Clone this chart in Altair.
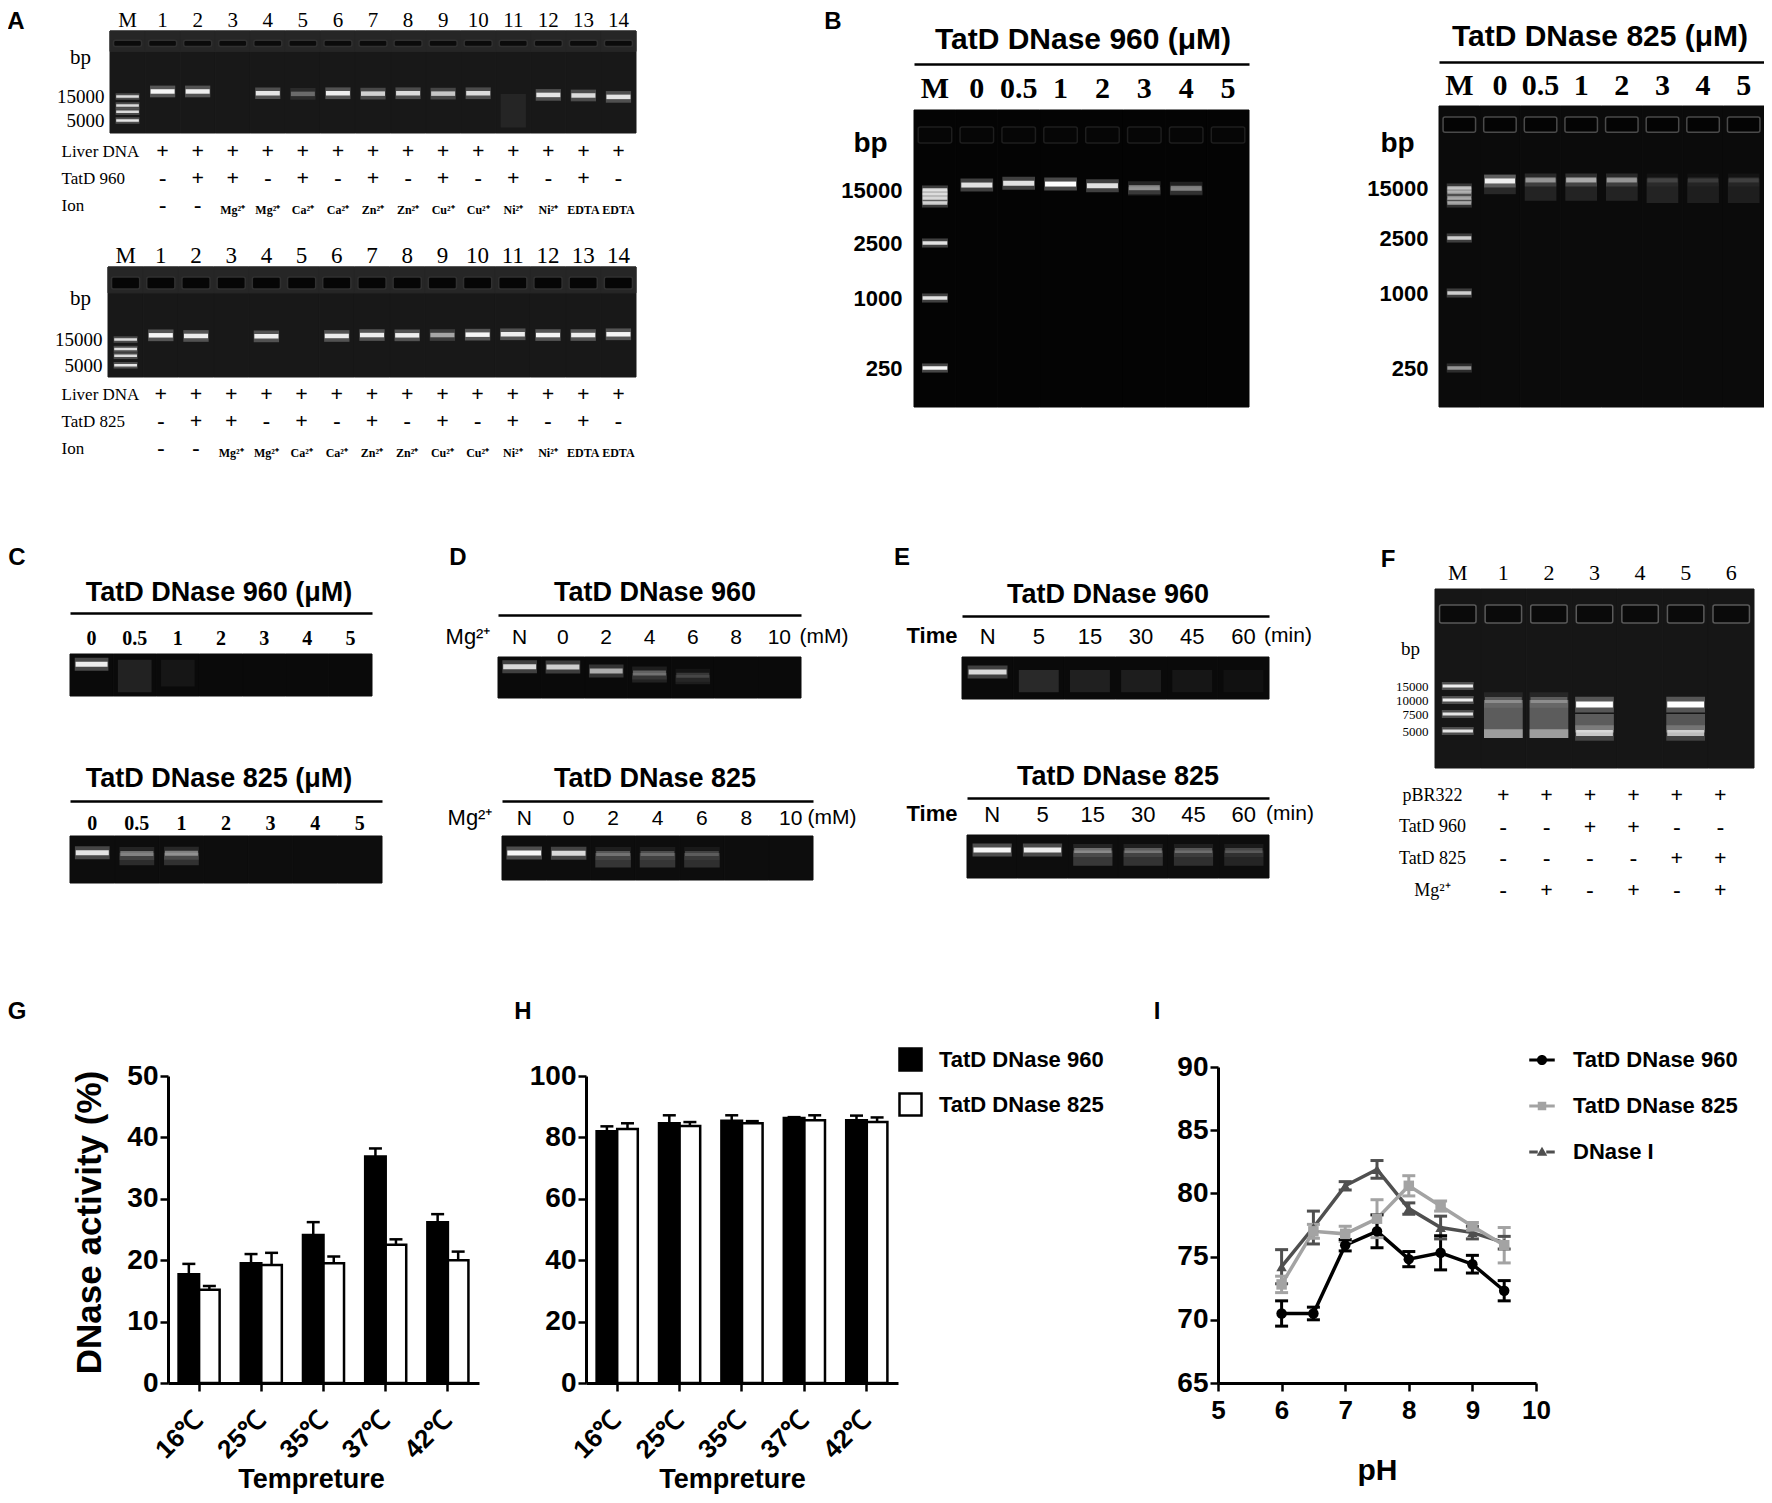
import altair as alt
import pandas as pd

# ============================ DATA ============================
# ---- A: metal-ion dependence on liver DNA (lanes M, 1..14)
A_LANES = ["M", "1", "2", "3", "4", "5", "6", "7", "8", "9", "10", "11", "12", "13", "14"]
A_LADDER_BP = [15000, 10000, 7500, 5000]
A_LADDER_I = [0.8, 0.8, 0.8, 0.85]
A1_BAND_BP = [None, 19000, 19000, None, 17500, 17000, 17500, 17200, 17500, 17200, 17500, None, 16200, 15800, 14800]
A1_BAND_I = [0, 0.95, 0.9, 0, 0.85, 0.3, 0.9, 0.75, 0.8, 0.7, 0.8, 0, 0.85, 0.8, 0.85]
A1_SMEAR = (["11"], [17000], [3600], [0.06])
A2_BAND_BP = [None, 18000, 17500, None, 17200, None, 17500, 18200, 18000, 18200, 18500, 18800, 18200, 18200, 18800]
A2_BAND_I = [0, 0.95, 0.9, 0, 0.9, 0, 0.9, 0.9, 0.9, 0.55, 0.95, 0.9, 0.95, 0.9, 0.95]
A_TAB_LANES = A_LANES[1:]
A_LIVER = ["+"] * 14
A_ENZYME = ["-", "+", "+", "-", "+", "-", "+", "-", "+", "-", "+", "-", "+", "-"]
A_ION = ["-", "-", "Mg²⁺", "Mg²⁺", "Ca²⁺", "Ca²⁺", "Zn²⁺", "Zn²⁺", "Cu²⁺", "Cu²⁺", "Ni²⁺", "Ni²⁺", "EDTA", "EDTA"]
A1_ROWS = ["Liver DNA", "TatD 960", "Ion"]
A2_ROWS = ["Liver DNA", "TatD 825", "Ion"]

# ---- B: dose dependence (µM)
B_LANES = ["M", "0", "0.5", "1", "2", "3", "4", "5"]
B_LADDER_BP = [15000, 10000, 7500, 5000, 2500, 1000, 250]
B1_LADDER_I = [0.8, 0.75, 0.75, 0.75, 0.85, 0.85, 0.95]
B1_BAND_BP = [None, 17700, 18800, 18300, 17300, 16200, 15900, None]
B1_BAND_I = [0, 0.85, 0.85, 1.0, 0.85, 0.45, 0.4, 0]
B1_SMEAR = (["3", "4"], [16500, 16500], [9000, 9000], [0.1, 0.08])
B2_LADDER_I = [0.65, 0.55, 0.55, 0.55, 0.75, 0.75, 0.5]
B2_BAND_BP = [None, 19300, 20000, 20000, 20000, 20000, 20000, 20000]
B2_BAND_I = [0, 0.9, 0.45, 0.55, 0.45, 0.12, 0.1, 0.12]
B2_SMEAR = (["0", "0.5", "1", "2", "3", "4", "5"],
            [24000, 21000, 21000, 21000, 21000, 21000, 21000],
            [9000, 6000, 6000, 6000, 5000, 5000, 5000],
            [0.12, 0.1, 0.1, 0.1, 0.1, 0.08, 0.08])

# ---- C: dose dependence strips
C_LANES = ["0", "0.5", "1", "2", "3", "4", "5"]
C1_BAND_BP = [24000, None, None, None, None, None, None]
C1_BAND_I = [0.9, 0, 0, 0, 0, 0, 0]
C1_SMEAR = (["0.5", "1"], [30000, 30000], [6000, 8000], [0.1, 0.05])
C2_BAND_BP = [19000, 18500, 18700, None, None, None, None]
C2_BAND_I = [0.85, 0.35, 0.4, 0, 0, 0, 0]
C2_SMEAR = (["0.5", "1"], [19000, 19000], [11000, 11000], [0.13, 0.15])

# ---- D: Mg2+ concentration (mM)
D_LANES = ["N", "0", "2", "4", "6", "8", "10"]
D1_BAND_BP = [24300, 24000, 19700, 17800, 15900, None, None]
D1_BAND_I = [0.8, 0.75, 0.6, 0.3, 0.15, 0, 0]
D1_SMEAR = (["4", "6"], [17800, 16000], [11000, 10000], [0.1, 0.08])
D2_BAND_BP = [18000, 17800, 17500, 17500, 17500, None, None]
D2_BAND_I = [0.95, 0.8, 0.25, 0.22, 0.18, 0, 0]
D2_SMEAR = (["2", "4", "6"], [18000, 18000, 18000], [9000, 9000, 9000], [0.17, 0.17, 0.14])

# ---- E: time course (min)
E_LANES = ["N", "5", "15", "30", "45", "60"]
E1_BAND_BP = [19000, None, None, None, None, None]
E1_BAND_I = [0.8, 0, 0, 0, 0, 0]
E1_SMEAR = (["5", "15", "30", "45", "60"], [21000] * 5, [7000] * 5, [0.13, 0.09, 0.08, 0.05, 0.03])
E2_BAND_BP = [19300, 19300, 19000, 19000, 19000, 19000]
E2_BAND_I = [0.95, 0.9, 0.35, 0.28, 0.25, 0.2]
E2_SMEAR = (["15", "30", "45", "60"], [19000] * 4, [9000] * 4, [0.18, 0.16, 0.14, 0.1])

# ---- F: pBR322 plasmid
F_LANES = ["M", "1", "2", "3", "4", "5", "6"]
F_LADDER_BP = [15000, 10000, 7500, 5000]
F_LADDER_I = [0.9, 0.9, 0.85, 0.85]
F_BAND_LANE = ["1", "2", "3", "3", "5", "5"]
F_BAND_BP = [10000, 10000, 9100, 4580, 9100, 4580]
F_BAND_I = [0.25, 0.25, 1.0, 0.7, 1.0, 0.65]
F_SMEAR = (["1", "1", "2", "2", "3", "5"],
           [10000, 5200, 10000, 5200, 7500, 7500],
           [3700, 3700, 3700, 3700, 4700, 4700],
           [0.3, 0.4, 0.3, 0.4, 0.3, 0.28])
F_TAB_LANES = F_LANES[1:]
F_ROWS = ["pBR322", "TatD 960", "TatD 825", "Mg²⁺"]
F_PBR = ["+"] * 6
F_960 = ["-", "-", "+", "+", "-", "-"]
F_825 = ["-", "-", "-", "-", "+", "+"]
F_MG = ["-", "+", "-", "+", "-", "+"]

# ---- G / H: temperature
TEMPS = ["16℃", "25℃", "35℃", "37℃", "42℃"]
SERIES_GH = ["TatD DNase 960", "TatD DNase 825"]
G_960 = [17.7, 19.5, 24.1, 36.9, 26.2]
G_960_ERR = [1.7, 1.5, 2.1, 1.3, 1.3]
G_825 = [15.2, 19.2, 19.5, 22.5, 20.0]
G_825_ERR = [0.6, 2.0, 1.1, 0.9, 1.4]
H_960 = [82.0, 84.6, 85.4, 86.3, 85.6]
H_960_ERR = [1.6, 2.6, 1.8, 0.3, 1.5]
H_825 = [82.7, 83.7, 84.6, 85.6, 85.0]
H_825_ERR = [1.9, 1.3, 0.7, 1.6, 1.5]

# ---- I: pH
SERIES_I = ["TatD DNase 960", "TatD DNase 825", "DNase I"]
PH = [6, 6.5, 7, 7.5, 8, 8.5, 9, 9.5]
I_960 = [70.5, 70.5, 75.9, 77.0, 74.8, 75.3, 74.4, 72.3]
I_960_ERR = [1.0, 0.5, 0.45, 1.3, 0.6, 1.35, 0.7, 0.8]
I_825 = [72.8, 77.0, 76.8, 78.0, 80.6, 79.0, 77.4, 75.9]
I_825_ERR = [0.65, 0.55, 0.6, 1.5, 0.8, 0.4, 0.3, 1.4]
I_DN1 = [74.2, 77.3, 80.6, 81.9, 78.8, 77.3, 76.9, 76.1]
I_DN1_ERR = [1.35, 1.3, 0.33, 0.7, 0.45, 0.9, 0.5, 0.5]

# ============================ LAYOUT / STYLE ============================
M = 8                      # page margin
W, H = 1756, 1487          # whole canvas (plot area of the single layered chart)


def P(v):
    return v - M


SANS = "Liberation Sans"
SERIF = "Liberation Serif"
layers = []


def add(ch):
    layers.append(ch)


def lane_axis(line_y, label_y, font, size, weight="normal", domain=False):
    return alt.Axis(orient="top", offset=-P(line_y), domain=domain, domainColor="black", domainWidth=2.5,
                    ticks=False, tickSize=0, labelPadding=-(label_y - line_y), labelBaseline="middle",
                    labelAngle=0, labelAlign="center", labelFont=font, labelFontSize=size,
                    labelFontWeight=weight, labelColor="black", labelOverlap=False, labelBound=False,
                    labelFlush=False, labelLimit=300, title=None, grid=False)


def bp_axis(x0, values, font, size, weight, pad, bx, by, bsize):
    return alt.Axis(orient="left", offset=-P(x0), values=values, format="d", domain=False, ticks=False,
                    tickSize=0, labelPadding=pad, labelFont=font, labelFontSize=size, labelFontWeight=weight,
                    labelColor="black", labelOverlap=False, labelBound=False, labelFlush=False,
                    title="bp", titleFont=font, titleFontSize=bsize, titleFontWeight=weight,
                    titleColor="black", titleAngle=0, titleAlign="center", titleBaseline="middle",
                    titleX=bx - x0, titleY=P(by), grid=False)


def gel(lanes, x0, x1, ydom, yrng, bg, band_lanes, band_bp, band_i, ladder=None, ladder_i=None,
        smear=None, wells=None, wfill="#080808", wstroke="#3a3a3a", strip=None, th=5, bw=0.74, lth=3,
        lbw=0.64, xaxis=None, yaxis=None):
    step = (x1 - x0) / len(lanes)

    def X(axis=None):
        return alt.X("lane:N", axis=axis,
                     scale=alt.Scale(type="band", domain=lanes, range=[P(x0), P(x1)],
                                     paddingInner=0, paddingOuter=0))

    def Y(field, axis=None):
        return alt.Y(field, axis=axis,
                     scale=alt.Scale(type="log", domain=ydom, range=[P(r) for r in yrng], nice=False))

    n = len(lanes)
    bgdf = pd.DataFrame({"lane": lanes, "lo": [min(ydom)] * n, "hi": [max(ydom)] * n})
    add(alt.Chart(bgdf).mark_rect(color=bg, stroke=bg, strokeWidth=1)
        .encode(x=X(xaxis), y=Y("lo:Q", yaxis), y2="hi:Q"))
    if strip:
        sdf = pd.DataFrame({"lane": lanes, "lo": [strip[1]] * n, "hi": [max(ydom)] * n})
        add(alt.Chart(sdf).mark_rect(color=strip[2], stroke=strip[2], strokeWidth=1)
            .encode(x=X(), y=Y("lo:Q"), y2="hi:Q"))
    if wells:
        wdf = pd.DataFrame({"lane": lanes, "top": [wells[0]] * n, "bot": [wells[1]] * n})
        add(alt.Chart(wdf).mark_bar(width=alt.RelativeBandSize(0.8), fill=wfill, stroke=wstroke,
                                    strokeWidth=1.5, cornerRadius=2)
            .encode(x=X(), y=Y("top:Q"), y2="bot:Q"))
    if smear:
        sdf = pd.DataFrame({"lane": smear[0], "hi": smear[1], "lo": smear[2], "v": smear[3]})
        add(alt.Chart(sdf).mark_bar(width=alt.RelativeBandSize(bw), color="white")
            .encode(x=X(), y=Y("hi:Q"), y2="lo:Q", opacity=alt.Opacity("v:Q", scale=None)))
    recs = [(l, b, v) for l, b, v in zip(band_lanes, band_bp, band_i) if b is not None and v > 0]
    bdf = pd.DataFrame(recs, columns=["lane", "bp", "v"])
    sets = [(bdf, th, bw)]
    if ladder:
        ldf = pd.DataFrame({"lane": ["M"] * len(ladder), "bp": ladder, "v": ladder_i})
        sets.append((ldf, lth, lbw))
    for df, t, w in sets:
        for thick, size, op in [(t * 2.6, w * step, 0.28), (t, w * step * 0.95, 1.0)]:
            add(alt.Chart(df).transform_calculate(o="datum.v*%s" % op)
                .mark_tick(orient="horizontal", color="white", thickness=thick, size=size)
                .encode(x=X(), y=Y("bp:Q"), opacity=alt.Opacity("o:Q", scale=None)))


def table(rows, lanes, tab_lanes, cols, x0, x1, y0, y1, lab_x, lab_align, lab_size, sym_size,
          small_size=12, small_dy=5):
    recs = []
    for r, vals in zip(rows, cols):
        for l, v in zip(tab_lanes, vals):
            recs.append({"row": r, "lane": l, "val": v})
    df = pd.DataFrame(recs)

    def X():
        return alt.X("lane:N", axis=None,
                     scale=alt.Scale(type="band", domain=lanes, range=[P(x0), P(x1)],
                                     paddingInner=0, paddingOuter=0))

    def Y(axis=None):
        return alt.Y("row:N", axis=axis,
                     scale=alt.Scale(type="point", domain=rows, range=[P(y0), P(y1)], padding=0))

    yaxis = alt.Axis(orient="left", offset=0, domain=False, ticks=False, tickSize=0,
                     labelPadding=-P(lab_x), labelAlign=lab_align, labelBaseline="middle",
                     labelFont=SERIF, labelFontSize=lab_size, labelColor="black", labelOverlap=False,
                     labelBound=False, labelLimit=400, title=None, grid=False)
    sym = df[df.val.isin(["+", "-"])]
    add(alt.Chart(sym).mark_text(font=SERIF, fontSize=sym_size, fontWeight="bold", color="black")
        .encode(x=X(), y=Y(yaxis), text="val:N"))
    small = df[~df.val.isin(["+", "-"])]
    if len(small):
        add(alt.Chart(small).mark_text(font=SERIF, fontSize=small_size, fontWeight="bold",
                                       color="black", dy=small_dy)
            .encode(x=X(), y=Y(), text="val:N"))


def label(text, x, y, size, weight="bold", font=SANS, align="center"):
    add(alt.Chart(pd.DataFrame({"t": [text]}))
        .mark_text(font=font, fontSize=size, fontWeight=weight, align=align, baseline="middle",
                   color="black")
        .encode(text="t:N", x=alt.value(P(x)), y=alt.value(P(y))))


# ============================ GELS ============================
STRIP = [5000, 40000]
B1_DOM = [117, 250, 1000, 2500, 5000, 7500, 10000, 15000, 218000]
B1_RNG = [407, 368, 298, 243, 203, 198, 194, 190, 110]
B2_DOM = [122, 250, 1000, 2500, 5000, 7500, 10000, 15000, 283000]
B2_RNG = [407, 368, 293, 238, 203, 198, 192, 188, 106]
F_DOM = [1000, 5000, 7500, 10000, 15000, 1000000]
F_RNG = [768, 731, 714, 700, 686, 589]

# A
gel(A_LANES, 110, 636, [2805, 307600], [133, 31], "#181818", A_LANES, A1_BAND_BP, A1_BAND_I,
    A_LADDER_BP, A_LADDER_I, smear=A1_SMEAR, wells=(200000, 150000), wfill="#0b0b0b", wstroke="#303030",
    strip=(None, 120000, "#262626"), th=4.5, bw=0.72, lth=2.5, lbw=0.68,
    xaxis=lane_axis(20, 20, SERIF, 21),
    yaxis=bp_axis(110, [15000, 5000], SERIF, 19, "normal", 6, 80, 57, 21))
gel(A_LANES, 108, 636, [3034, 332700], [377, 267], "#181818", A_LANES, A2_BAND_BP, A2_BAND_I,
    A_LADDER_BP, A_LADDER_I, wells=(218000, 130000), wfill="#060606", wstroke="#303030",
    strip=(None, 110000, "#262626"), th=4.5, bw=0.72, lth=2.5, lbw=0.68,
    xaxis=lane_axis(255, 255, SERIF, 23),
    yaxis=bp_axis(108, [15000, 5000], SERIF, 19, "normal", 6, 80, 298, 21))
table(A1_ROWS, A_LANES, A_TAB_LANES, [A_LIVER, A_ENZYME, A_ION], 110, 636, 151, 205, 61, "left", 17, 22)
table(A2_ROWS, A_LANES, A_TAB_LANES, [A_LIVER, A_ENZYME, A_ION], 108, 636, 394, 448, 61, "left", 17, 22)

# B
gel(B_LANES, 914, 1249, B1_DOM, B1_RNG, "#040404", B_LANES, B1_BAND_BP, B1_BAND_I,
    B_LADDER_BP, B1_LADDER_I, smear=B1_SMEAR, wells=(123000, 72000), wfill="#060606", wstroke="#1e1e1e",
    th=5, bw=0.78, lth=3.5, lbw=0.62,
    xaxis=lane_axis(64, 88, SERIF, 30, "bold", True),
    yaxis=bp_axis(914, [15000, 2500, 1000, 250], SANS, 22, "bold", 12, 870, 143, 28))
gel(B_LANES, 1439, 1764, B2_DOM, B2_RNG, "#0b0b0b", B_LANES, B2_BAND_BP, B2_BAND_I,
    B_LADDER_BP, B2_LADDER_I, smear=B2_SMEAR, wells=(191000, 111000), wfill="#040404", wstroke="#4a4a4a",
    th=5, bw=0.78, lth=3.5, lbw=0.62,
    xaxis=lane_axis(62, 85, SERIF, 30, "bold", True),
    yaxis=bp_axis(1439, [15000, 2500, 1000, 250], SANS, 22, "bold", 11, 1397, 143, 28))

# C
gel(C_LANES, 70, 372, STRIP, [696, 654], "#0a0a0a", C_LANES, C1_BAND_BP, C1_BAND_I, smear=C1_SMEAR,
    th=5, bw=0.78, xaxis=lane_axis(613, 638, SERIF, 20, "bold", True))
gel(C_LANES, 70, 382, STRIP, [883, 836], "#0d0d0d", C_LANES, C2_BAND_BP, C2_BAND_I, smear=C2_SMEAR,
    th=5, bw=0.78, xaxis=lane_axis(801, 823, SERIF, 20, "bold", True))
# D
gel(D_LANES, 498, 801, STRIP, [698, 657], "#0a0a0a", D_LANES, D1_BAND_BP, D1_BAND_I, smear=D1_SMEAR,
    th=5, bw=0.8, xaxis=lane_axis(615, 637, SANS, 21, "normal", True))
gel(D_LANES, 502, 813, STRIP, [880, 836], "#0d0d0d", D_LANES, D2_BAND_BP, D2_BAND_I, smear=D2_SMEAR,
    th=5, bw=0.8, xaxis=lane_axis(801, 818, SANS, 21, "normal", True))
# E
gel(E_LANES, 962, 1269, STRIP, [699, 657], "#0a0a0a", E_LANES, E1_BAND_BP, E1_BAND_I, smear=E1_SMEAR,
    th=5, bw=0.78, xaxis=lane_axis(616, 636, SANS, 22, "normal", True))
gel(E_LANES, 967, 1269, STRIP, [878, 835], "#0d0d0d", E_LANES, E2_BAND_BP, E2_BAND_I, smear=E2_SMEAR,
    th=5, bw=0.78, xaxis=lane_axis(798, 814, SANS, 22, "normal", True))
# F
gel(F_LANES, 1435, 1754, F_DOM, F_RNG, "#161616", F_BAND_LANE, F_BAND_BP, F_BAND_I,
    F_LADDER_BP, F_LADDER_I, smear=F_SMEAR, wells=(500000, 229000), wfill="#0a0a0a", wstroke="#5a5a5a",
    th=6, bw=0.85, lth=3, lbw=0.7,
    xaxis=lane_axis(572, 572, SERIF, 22),
    yaxis=bp_axis(1435, [15000, 10000, 7500, 5000], SERIF, 13, "normal", 7, 1410, 648, 19))
table(F_ROWS, F_LANES, F_TAB_LANES, [F_PBR, F_960, F_825, F_MG], 1438, 1742, 795, 890, 1432, "center", 18, 22)

# ============================ G / H bar charts ============================
BASE_Y, TOP_Y = 1383, 1076


def bar_df(v960, e960, v825, e825):
    recs = []
    for s, vals, errs in [(SERIES_GH[0], v960, e960), (SERIES_GH[1], v825, e825)]:
        for t, v, e in zip(TEMPS, vals, errs):
            recs.append({"series": s, "temp": t, "mean": v, "err": e})
    return pd.DataFrame(recs)


def bars(df, x0, x1, ymax, yticks, ytitle, xtitle_x, legend):
    def X(axis=None):
        return alt.X("temp:N", axis=axis,
                     scale=alt.Scale(type="band", domain=TEMPS, range=[P(x0), P(x1)],
                                     paddingInner=0.34, paddingOuter=0.17))

    def XO():
        return alt.XOffset("series:N", scale=alt.Scale(type="band", domain=SERIES_GH,
                                                       paddingInner=0, paddingOuter=0))

    def Y(field, axis=None):
        return alt.Y(field, axis=axis,
                     scale=alt.Scale(domain=[0, ymax], range=[P(BASE_Y), P(TOP_Y)], nice=False, zero=True))

    xaxis = alt.Axis(orient="bottom", offset=P(BASE_Y) - H, domainColor="black", domainWidth=3,
                     tickColor="black", tickWidth=2.5, tickSize=8, labelAngle=-45, labelAlign="right",
                     labelBaseline="middle", labelPadding=24, labelFont=SANS, labelFontWeight="bold",
                     labelFontSize=26, labelColor="black", labelOverlap=False, labelBound=False,
                     title="Tempreture", titleFont=SANS, titleFontWeight="bold", titleFontSize=27,
                     titleColor="black", titleX=P(xtitle_x), titleY=1479 - BASE_Y, titleAlign="center",
                     titleBaseline="middle", titleAngle=0, grid=False, zindex=1)
    yaxis = alt.Axis(orient="left", offset=-P(x0), values=yticks, format="d", domainColor="black",
                     domainWidth=3, tickColor="black", tickWidth=2.5, tickSize=8, labelPadding=2,
                     labelFont=SANS, labelFontWeight="bold", labelFontSize=28, labelColor="black",
                     labelOverlap=False, labelBound=False, labelFlush=False, grid=False, zindex=1,
                     title=ytitle, titleFont=SANS, titleFontWeight="bold", titleFontSize=35,
                     titleColor="black", titleX=89 - x0, titleY=P(1222), titleBaseline="middle",
                     titleAlign="center")
    add(alt.Chart(df).mark_bar(stroke="black", strokeWidth=2.5).encode(
        x=X(xaxis), xOffset=XO(), y=Y("mean:Q", yaxis),
        fill=alt.Fill("series:N", scale=alt.Scale(domain=SERIES_GH, range=["black", "white"]), legend=legend)))
    add(alt.Chart(df).transform_calculate(top="datum.mean + datum.err")
        .mark_rule(color="black", strokeWidth=2.5)
        .encode(x=X(), xOffset=XO(), y=Y("mean:Q"), y2="top:Q"))
    add(alt.Chart(df).transform_calculate(top="datum.mean + datum.err")
        .mark_tick(orient="horizontal", color="black", thickness=2.5, size=13, opacity=1)
        .encode(x=X(), xOffset=XO(), y=Y("top:Q")))


bars(bar_df(G_960, G_960_ERR, G_825, G_825_ERR), 168, 479, 50, [0, 10, 20, 30, 40, 50],
     "DNase activity (%)", 311, None)
H_LEGEND = alt.Legend(orient="none", legendX=P(898), legendY=P(1047), direction="vertical", title=None,
                      symbolType="square", symbolSize=484, symbolStrokeColor="black", symbolStrokeWidth=2.5,
                      labelFont=SANS, labelFontWeight="bold", labelFontSize=22, labelColor="black",
                      labelOffset=16, rowPadding=12, padding=0, labelLimit=400)
bars(bar_df(H_960, H_960_ERR, H_825, H_825_ERR), 586, 898, 100, [0, 20, 40, 60, 80, 100],
     None, 732, H_LEGEND)

# ============================ I: pH line chart ============================
recs = []
for s, vals, errs in [(SERIES_I[2], I_DN1, I_DN1_ERR), (SERIES_I[1], I_825, I_825_ERR),
                      (SERIES_I[0], I_960, I_960_ERR)]:
    for p, v, e in zip(PH, vals, errs):
        recs.append({"series": s, "ph": p, "mean": v, "err": e})
idf = pd.DataFrame(recs)
I_COLORS = ["#000000", "#a3a3a3", "#4f4f4f"]


def IX(axis=None):
    return alt.X("ph:Q", axis=axis, scale=alt.Scale(domain=[5, 10], range=[P(1218), P(1536)],
                                                    nice=False, zero=False))


def IY(field, axis=None):
    return alt.Y(field, axis=axis, scale=alt.Scale(domain=[65, 90], range=[P(1383), P(1067)],
                                                   nice=False, zero=False))


def ICOL(legend=None):
    return alt.Color("series:N", scale=alt.Scale(domain=SERIES_I, range=I_COLORS), legend=legend)


i_xaxis = alt.Axis(orient="bottom", offset=P(1383) - H, values=[5, 6, 7, 8, 9, 10], format="d",
                   domainColor="black", domainWidth=3, tickColor="black", tickWidth=2.5, tickSize=8,
                   labelPadding=6, labelFont=SANS, labelFontWeight="bold", labelFontSize=26,
                   labelColor="black", labelOverlap=False, labelBound=False, labelFlush=False,
                   title="pH", titleFont=SANS, titleFontWeight="bold", titleFontSize=30, titleColor="black",
                   titleX=P(1377), titleY=1470 - 1383, titleAlign="center", titleBaseline="middle",
                   grid=False, zindex=1)
i_yaxis = alt.Axis(orient="left", offset=-P(1218), values=[65, 70, 75, 80, 85, 90], format="d",
                   domainColor="black", domainWidth=3, tickColor="black", tickWidth=2.5, tickSize=8,
                   labelPadding=2, labelFont=SANS, labelFontWeight="bold", labelFontSize=28,
                   labelColor="black", labelOverlap=False, labelBound=False, labelFlush=False,
                   title=None, grid=False, zindex=1)

add(alt.Chart(idf).mark_line(strokeWidth=3.5).encode(
    x=IX(i_xaxis), y=IY("mean:Q", i_yaxis), color=ICOL(), order="ph:Q"))
add(alt.Chart(idf).transform_calculate(lo="datum.mean - datum.err", hi="datum.mean + datum.err")
    .mark_rule(strokeWidth=3).encode(x=IX(), y=IY("lo:Q"), y2="hi:Q", color=ICOL()))
for fld in ["lo", "hi"]:
    add(alt.Chart(idf).transform_calculate(lo="datum.mean - datum.err", hi="datum.mean + datum.err")
        .mark_tick(orient="horizontal", thickness=3, size=13, opacity=1)
        .encode(x=IX(), y=IY(fld + ":Q"), color=ICOL()))
add(alt.Chart(idf).mark_point(filled=True, size=110, opacity=1).encode(
    x=IX(), y=IY("mean:Q"), color=ICOL(),
    shape=alt.Shape("series:N", scale=alt.Scale(domain=SERIES_I, range=["circle", "square", "triangle-up"]),
                    legend=None)))

# legend for I: line-and-marker symbols
SEG = "M-1.5,-0.17H-0.5V0.17H-1.5Z M0.5,-0.17H1.5V0.17H0.5Z "
I_SYMBOLS = [SEG + "M0.6,0A0.6,0.6,0,1,1,-0.6,0A0.6,0.6,0,1,1,0.6,0Z",
             SEG + "M-0.5,-0.5H0.5V0.5H-0.5Z",
             SEG + "M0,-0.62L0.62,0.45H-0.62Z"]
I_LEGEND = alt.Legend(orient="none", legendX=P(1531), legendY=P(1049), direction="vertical", title=None,
                      symbolSize=289, symbolOpacity=1, symbolStrokeWidth=0, labelFont=SANS,
                      labelFontWeight="bold", labelFontSize=22, labelColor="black", labelOffset=20,
                      rowPadding=24, padding=0, labelLimit=400)
add(alt.Chart(idf).transform_filter("datum.ph < 0").mark_point(filled=True, opacity=1).encode(
    x=IX(), y=IY("mean:Q"), color=ICOL(I_LEGEND),
    shape=alt.Shape("series:N", scale=alt.Scale(domain=SERIES_I, range=I_SYMBOLS), legend=I_LEGEND)))

# ============================ TEXT ============================
for t, x, y in [("A", 16, 22), ("B", 833, 22), ("C", 17, 558), ("D", 458, 558), ("E", 902, 558),
                ("F", 1388, 560), ("G", 17, 1012), ("H", 523, 1012), ("I", 1157, 1012)]:
    label(t, x, y, 24)
label("TatD DNase 960 (μM)", 1083, 40, 30)
label("TatD DNase 825 (μM)", 1600, 37, 30)
label("TatD DNase 960 (μM)", 219, 593, 27)
label("TatD DNase 825 (μM)", 219, 779, 27)
label("TatD DNase 960", 655, 593, 27)
label("TatD DNase 825", 655, 779, 27)
label("TatD DNase 960", 1108, 595, 27)
label("TatD DNase 825", 1118, 777, 27)
label("Mg²⁺", 468, 637, 22, "normal")
label("Mg²⁺", 470, 818, 22, "normal")
label("(mM)", 824, 637, 21, "normal")
label("(mM)", 832, 818, 21, "normal")
label("Time", 932, 636, 22)
label("Time", 932, 814, 22)
label("(min)", 1288, 636, 21, "normal")
label("(min)", 1290, 814, 21, "normal")

chart = alt.layer(*layers).resolve_scale(
    x="independent", y="independent", color="independent", fill="independent",
    opacity="independent", shape="independent", xOffset="independent"
).properties(
    width=W, height=H, padding=0, background="white",
    autosize=alt.AutoSizeParams(type="none")
).configure_view(stroke=None)

chart.save("out.html", embed_options={"renderer": "svg", "actions": False})
